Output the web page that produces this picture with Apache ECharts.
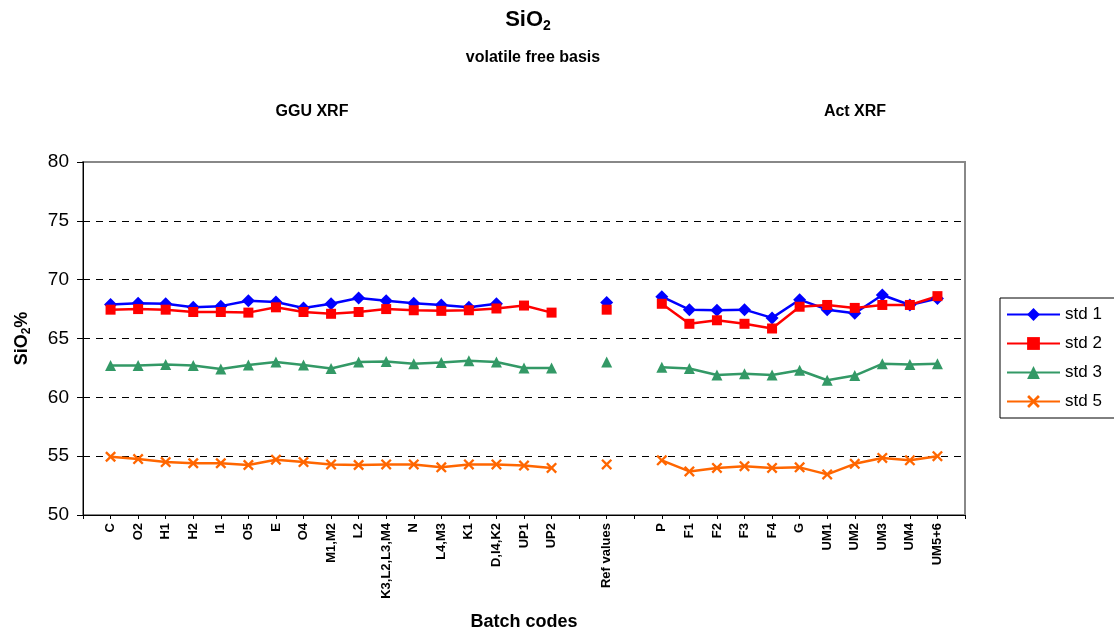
<!DOCTYPE html>
<html>
<head>
<meta charset="utf-8">
<title>SiO2 volatile free basis</title>
<script src="https://cdn.jsdelivr.net/npm/echarts@6/dist/echarts.min.js"></script>
<style>
  html, body { margin: 0; padding: 0; background: #fff; }
  #main { width: 1114px; height: 639px; }
</style>
</head>
<body>
<div id="main"></div>
<script>
// batch codes (blank slots keep the gaps around "Ref values")
const batchCodes = [' ', 'C', 'O2', 'H1', 'H2', 'I1', 'O5', 'E', 'O4', 'M1,M2', 'L2', 'K3,L2,L3,M4', 'N',
  'L4,M3', 'K1', 'D,I4,K2', 'UP1', 'UP2', '  ', 'Ref values', '   ', 'P', 'F1', 'F2', 'F3', 'F4', 'G',
  'UM1', 'UM2', 'UM3', 'UM4', 'UM5+6', '    '];

const std1 = [null, 67.9, 68.0, 67.95, 67.65, 67.75, 68.2, 68.1, 67.6, 67.95, 68.45, 68.2, 68.0,
  67.85, 67.65, 67.95, null, null, null, 68.05, null, 68.55, 67.45, 67.4, 67.45, 66.75, 68.3,
  67.45, 67.15, 68.7, 67.85, 68.4, null];
const std2 = [null, 67.45, 67.5, 67.45, 67.25, 67.25, 67.2, 67.65, 67.25, 67.1, 67.25, 67.5, 67.4,
  67.35, 67.4, 67.55, 67.8, 67.2, null, 67.45, null, 67.95, 66.25, 66.55, 66.25, 65.85, 67.7,
  67.85, 67.6, 67.85, 67.85, 68.6, null];
const std3 = [null, 62.7, 62.7, 62.8, 62.7, 62.4, 62.75, 63.0, 62.75, 62.45, 63.0, 63.05, 62.85,
  62.95, 63.1, 63.0, 62.5, 62.5, null, 63.0, null, 62.55, 62.45, 61.9, 62.0, 61.9, 62.3,
  61.45, 61.85, 62.85, 62.8, 62.85, null];
const std5 = [null, 54.95, 54.75, 54.5, 54.4, 54.4, 54.25, 54.7, 54.5, 54.3, 54.25, 54.3, 54.3,
  54.05, 54.3, 54.3, 54.2, 54.0, null, 54.3, null, 54.65, 53.7, 54.0, 54.15, 54.0, 54.05,
  53.45, 54.35, 54.85, 54.65, 55.0, null];

const FONT = '"Liberation Sans", Arial, sans-serif';
// thin "x" shape for std 5
const crossPath = 'path://M1.5,0 L5,3.5 L8.5,0 L10,1.5 L6.5,5 L10,8.5 L8.5,10 L5,6.5 L1.5,10 L0,8.5 L3.5,5 L0,1.5 Z';

function makeSeries(name, data, color, symbol, size) {
  return {
    name: name,
    type: 'line',
    data: data,
    symbol: symbol,
    symbolSize: size,
    showAllSymbol: true,
    connectNulls: false,
    lineStyle: { color: color, width: 2.5 },
    itemStyle: { color: color },
    emphasis: { disabled: true },
    animation: false
  };
}

const chart = echarts.init(document.getElementById('main'), null, { renderer: 'canvas' });

const option = {
  backgroundColor: '#ffffff',
  textStyle: { fontFamily: FONT },
  graphic: [
    {
      type: 'text', x: 528, y: 20,
      style: {
        text: 'SiO{s|2}', textAlign: 'center', textVerticalAlign: 'middle',
        font: 'bold 22px ' + FONT, fill: '#000',
        rich: { s: { fontSize: 14, fontWeight: 'bold', fontFamily: FONT, padding: [12, 0, 0, 0] } }
      }
    },
    {
      type: 'text', x: 533, y: 58,
      style: { text: 'volatile free basis', textAlign: 'center', textVerticalAlign: 'middle',
        font: 'bold 16px ' + FONT, fill: '#000' }
    },
    {
      type: 'text', x: 312, y: 112,
      style: { text: 'GGU XRF', textAlign: 'center', textVerticalAlign: 'middle',
        font: 'bold 16px ' + FONT, fill: '#000' }
    },
    {
      type: 'text', x: 855, y: 112,
      style: { text: 'Act XRF', textAlign: 'center', textVerticalAlign: 'middle',
        font: 'bold 16px ' + FONT, fill: '#000' }
    }
  ],
  legend: {
    orient: 'vertical',
    left: 1000,
    top: 298,
    padding: [8, 60, 8, 6],
    itemWidth: 53,
    itemHeight: 16,
    itemGap: 12,
    borderColor: '#000',
    borderWidth: 1,
    textStyle: { fontSize: 17, color: '#000', fontFamily: FONT },
    data: ['std 1', 'std 2', 'std 3', 'std 5']
  },
  grid: {
    left: 83, right: 149, top: 162, bottom: 124,
    show: true, borderColor: '#888', borderWidth: 2
  },
  xAxis: {
    type: 'category',
    data: batchCodes,
    boundaryGap: false,
    name: 'Batch codes',
    nameLocation: 'middle',
    nameGap: 98,
    nameTextStyle: { fontSize: 18, fontWeight: 'bold', color: '#000', fontFamily: FONT },
    axisLine: { lineStyle: { color: '#000', width: 1 } },
    axisTick: { show: true, interval: 0, length: 4, lineStyle: { color: '#000' } },
    axisLabel: { interval: 0, rotate: 90, margin: 8, fontSize: 13, fontWeight: 'bold',
      color: '#000', fontFamily: FONT },
    splitLine: { show: false }
  },
  yAxis: {
    type: 'value',
    min: 50, max: 80, interval: 5,
    name: 'SiO{s|2}%',
    nameLocation: 'middle',
    nameGap: 50,
    nameTextStyle: {
      fontSize: 18, fontWeight: 'bold', color: '#000', fontFamily: FONT,
      rich: { s: { fontSize: 12, fontWeight: 'bold', fontFamily: FONT, padding: [10, 0, 0, 0] } }
    },
    axisLine: { show: true, lineStyle: { color: '#000', width: 1 } },
    axisTick: { show: true, length: 6, lineStyle: { color: '#000' } },
    axisLabel: { margin: 14, fontSize: 19, color: '#000', fontFamily: FONT },
    splitLine: { show: true, showMinLine: false, showMaxLine: false,
      lineStyle: { color: '#000', type: [7, 6], width: 1 } }
  },
  series: [
    makeSeries('std 1', std1, '#0000ff', 'diamond', 13),
    makeSeries('std 2', std2, '#ff0000', 'rect', 10),
    makeSeries('std 3', std3, '#339966', 'triangle', 11),
    makeSeries('std 5', std5, '#ff6600', crossPath, 11)
  ]
};

chart.setOption(option);
</script>
</body>
</html>
